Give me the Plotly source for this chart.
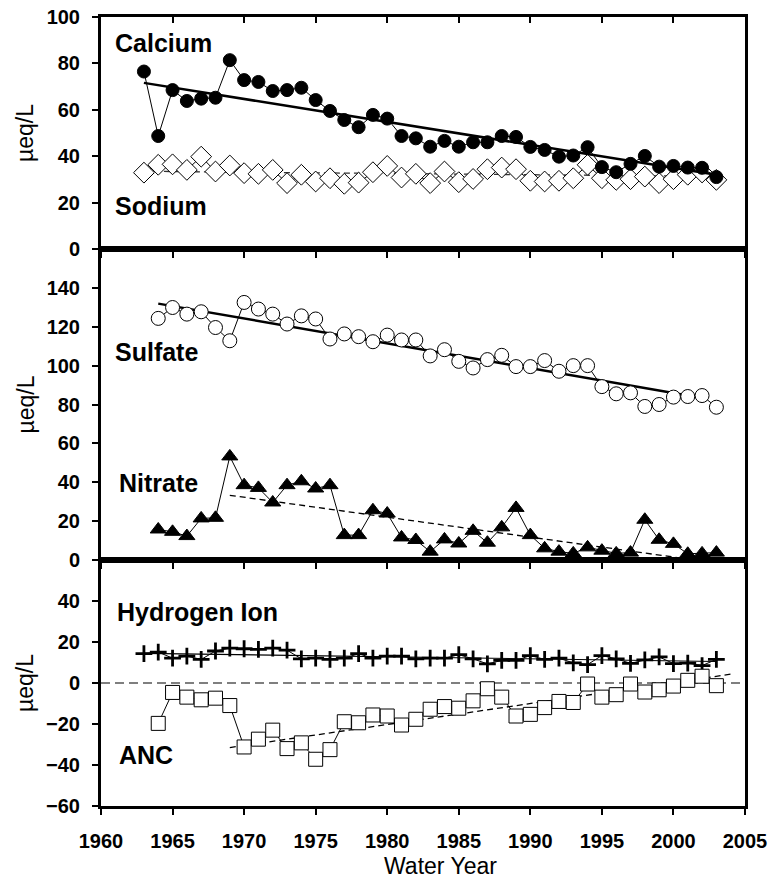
import plotly.graph_objects as go

# ---------------- data ----------------
years_ca_na = list(range(1963, 2004))
calcium = [76.5, 48.7, 68.5, 63.8, 64.8, 65.2, 81.4, 72.8, 72.0, 68.1, 68.5, 69.5, 64.2, 59.5, 55.6, 52.5, 57.8,
           56.2, 48.7, 47.7, 44.1, 46.6, 44.1, 46.0, 46.0, 48.7, 48.3, 44.0, 42.7, 39.8, 40.3, 43.9, 35.3, 33.1,
           36.7, 40.1, 35.5, 35.8, 35.1, 35.0, 31.0]
sodium = [32.9, 36.3, 36.5, 34.1, 39.8, 33.4, 36.0, 32.7, 32.4, 34.1, 28.4, 32.0, 29.1, 30.5, 28.1, 28.6, 33.1,
          35.8, 30.8, 32.4, 28.4, 33.4, 28.8, 30.2, 34.4, 35.1, 34.4, 29.4, 29.1, 29.4, 30.5, 36.3, 30.5, 29.8,
          30.1, 31.2, 28.4, 30.1, 32.0, 33.0, 29.8]

years_so4_no3 = list(range(1964, 2004))
sulfate = [124.3, 129.9, 126.5, 127.7, 119.6, 112.8, 132.5, 129.1, 126.5, 121.4, 125.6, 124.0, 113.7, 116.3,
           114.9, 112.3, 115.7, 113.2, 113.2, 105.0, 108.2, 102.2, 98.8, 103.1, 105.3, 99.5, 99.5, 102.6, 97.1,
           100.0, 100.0, 89.2, 85.5, 86.0, 79.0, 80.0, 83.8, 84.1, 84.6, 78.6]
nitrate = [15.7, 14.5, 12.3, 21.4, 21.7, 53.3, 38.5, 37.1, 29.6, 38.5, 40.5, 36.8, 38.5, 12.8, 12.8, 25.6,
           23.9, 11.6, 10.3, 4.3, 10.6, 8.5, 15.0, 8.9, 16.8, 26.8, 12.8, 6.0, 4.3, 3.4, 6.5, 4.8, 3.4, 3.8,
           20.7, 10.4, 8.3, 3.2, 3.4, 3.8]

years_h = list(range(1963, 2004))
hydrogen = [14.3, 15.1, 12.1, 13.1, 11.5, 15.6, 17.0, 16.7, 16.4, 17.0, 16.0, 11.8, 12.1, 11.5, 12.1, 14.3, 12.1,
            13.1, 13.1, 11.8, 12.1, 12.1, 13.8, 11.8, 9.3, 11.0, 11.0, 13.4, 11.5, 12.1, 9.8, 9.0, 13.4, 11.8,
            9.6, 11.3, 12.7, 9.5, 9.7, 8.5, 11.5]
years_anc = list(range(1964, 2004))
anc = [-19.7, -4.6, -6.9, -8.2, -7.4, -11.0, -31.2, -27.4, -23.0, -32.0, -29.2, -37.2, -32.5, -18.9, -19.4,
       -15.6, -16.1, -20.5, -17.7, -12.8, -11.5, -12.3, -8.7, -2.8, -6.9, -16.1, -15.3, -12.0, -9.0, -9.5,
       -0.5, -6.9, -5.7, -0.5, -4.4, -3.3, -1.5, 1.3, 3.3, -1.3]

# trend lines (end points)
ca_trend_x, ca_trend_y = [1963, 2003], [71.6, 32.0]
na_trend_x, na_trend_y = [1963, 2003], [33.5, 31.3]
so4_trend_x, so4_trend_y = [1964, 2001], [131.9, 84.6]
no3_trend_x, no3_trend_y = [1969, 2001.5], [33.3, 0.0]
h_trend_x, h_trend_y = [1963, 2003], [14.5, 10.5]
anc_trend_x, anc_trend_y = [1969, 2004], [-31.5, 4.3]
zero_x, zero_y = [1960, 2005], [0, 0]

x_ticks = [1960, 1965, 1970, 1975, 1980, 1985, 1990, 1995, 2000, 2005]
y1_ticks = [0, 20, 40, 60, 80, 100]
y2_ticks = [0, 20, 40, 60, 80, 100, 120, 140]
y3_ticks = [-60, -40, -20, 0, 20, 40]

# ---------------- figure ----------------
FONT = "Liberation Sans, Arial, sans-serif"
fig = go.Figure()

def line(x, y, xa, ya, width=1, dash="solid", color="black"):
    fig.add_trace(go.Scatter(x=x, y=y, mode="lines", xaxis=xa, yaxis=ya, showlegend=False,
                             line=dict(color=color, width=width, dash=dash), hoverinfo="skip"))

def series(x, y, xa, ya, symbol, fill, size, lw=1):
    fig.add_trace(go.Scatter(x=x, y=y, mode="lines+markers", xaxis=xa, yaxis=ya, showlegend=False,
                             line=dict(color="black", width=1),
                             marker=dict(symbol=symbol, size=size, color=fill,
                                         line=dict(color="black", width=lw))))

# panel 1
line(na_trend_x, na_trend_y, "x", "y", 1.3, "6px,4px", "#333333")
series(years_ca_na, sodium, "x", "y", "diamond", "white", 16)
line(ca_trend_x, ca_trend_y, "x", "y", 2.5)
series(years_ca_na, calcium, "x", "y", "circle", "black", 13)

# panel 2
line(so4_trend_x, so4_trend_y, "x2", "y2", 2.5)
series(years_so4_no3, sulfate, "x2", "y2", "circle", "white", 14)
line(no3_trend_x, no3_trend_y, "x2", "y2", 1.3, "6px,4px")
series(years_so4_no3, nitrate, "x2", "y2", "triangle-up", "black", 14)

# panel 3
line(zero_x, zero_y, "x3", "y3", 1.5, "9px,5px", "#555555")
line(h_trend_x, h_trend_y, "x3", "y3", 1.2)
series(years_h, hydrogen, "x3", "y3", "cross-thin", "black", 12, lw=2.8)
line(anc_trend_x, anc_trend_y, "x3", "y3", 1.3, "6px,4px")
series(years_anc, anc, "x3", "y3", "square", "white", 14)

# helper axis for inward ticks on the top border
fig.add_trace(go.Scatter(x=[], y=[], xaxis="x4", yaxis="y", showlegend=False))

d3 = 246 / 789
d2 = 557 / 789

TICKFONT = dict(family=FONT, size=20, color="black", weight="bold")
xcommon = dict(range=[1960, 2005], tickvals=x_ticks, showgrid=False, zeroline=False, automargin=False,
               showline=True, linecolor="black", linewidth=3, mirror=True, ticklabeloverflow="allow",
               ticks="outside", ticklen=6, tickwidth=2, tickcolor="black")
ycommon = dict(showgrid=False, zeroline=False, showline=True, linecolor="black", linewidth=3,
               mirror=True, ticks="outside", ticklen=6, tickwidth=2, tickcolor="black",
               tickfont=TICKFONT, ticklabelstandoff=8, automargin=False, ticklabeloverflow="allow")

fig.update_layout(
    width=770, height=888,
    margin=dict(l=101, r=25, t=17, b=82, autoexpand=False),
    paper_bgcolor="white", plot_bgcolor="white",
    xaxis=dict(**xcommon, anchor="y", domain=[0, 1], showticklabels=False),
    xaxis2=dict(**xcommon, anchor="y2", domain=[0, 1], showticklabels=False),
    xaxis3=dict(**xcommon, anchor="y3", domain=[0, 1], showticklabels=True,
                tickfont=TICKFONT, ticklabelstandoff=9),
    xaxis4=dict(range=[1960, 2005], tickvals=x_ticks, overlaying="x", side="top", anchor="y",
                showgrid=False, zeroline=False, showline=False, showticklabels=False, automargin=False,
                ticks="inside", ticklen=6, tickwidth=2, tickcolor="black"),
    yaxis=dict(**ycommon, domain=[d2, 1], range=[0, 100], tickvals=y1_ticks, anchor="x"),
    yaxis2=dict(**ycommon, domain=[d3, d2], range=[0, 160], tickvals=y2_ticks, anchor="x2"),
    yaxis3=dict(**ycommon, domain=[0, d3], range=[-60, 60], tickvals=y3_ticks, anchor="x3"),
)

lab = dict(family=FONT, size=25, color="black", weight="bold")
labels = [("Calcium", "x", "y", 1960.85, 89.0), ("Sodium", "x", "y", 1960.85, 18.6),
          ("Sulfate", "x2", "y2", 1960.85, 107.0), ("Nitrate", "x2", "y2", 1961.1, 39.5),
          ("Hydrogen Ion", "x3", "y3", 1960.95, 34.6), ("ANC", "x3", "y3", 1961.1, -35.0)]
for t, xr, yr, xv, yv in labels:
    fig.add_annotation(text=t, xref=xr, yref=yr, x=xv, y=yv, xanchor="left", yanchor="middle",
                       showarrow=False, font=lab)

ytitle_x = (25 - 101) / 644
for ya, dom in [("y", (d2, 1)), ("y2", (d3, d2)), ("y3", (0, d3))]:
    fig.add_annotation(text="µeq/L", xref="paper", yref="paper", x=ytitle_x, y=(dom[0] + dom[1]) / 2,
                       xanchor="center", yanchor="middle", textangle=-90, showarrow=False,
                       font=dict(family=FONT, size=23, color="black"))

fig.add_annotation(text="Water Year", xref="paper", yref="paper", x=(440 - 101) / 644, y=-60 / 789,
                   xanchor="center", yanchor="middle", showarrow=False,
                   font=dict(family=FONT, size=23, color="black"))

# remove the default 8px page margin so the 770x888 figure fills the window exactly
fig.write_html("out.html", config={"displayModeBar": False},
               post_script="document.body.style.margin='0';")
